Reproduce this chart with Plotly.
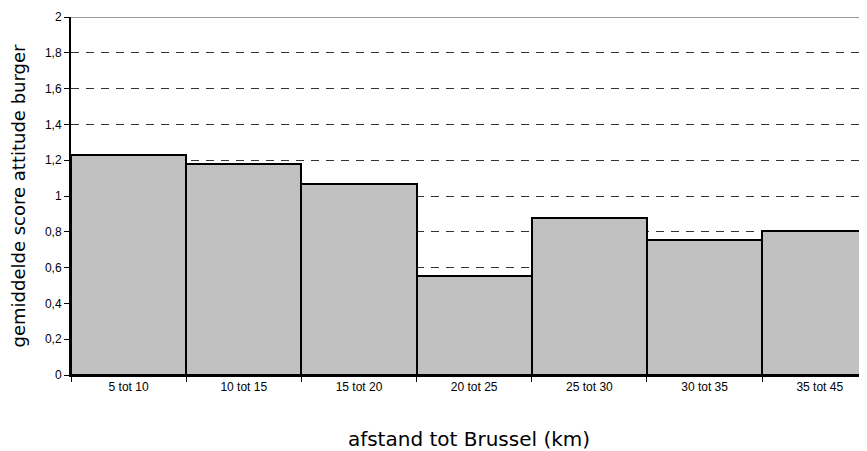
import plotly.graph_objects as go

categories = ["5 tot 10", "10 tot 15", "15 tot 20", "20 tot 25", "25 tot 30", "30 tot 35", "35 tot 45"]
scores = [1.23, 1.18, 1.065, 0.555, 0.875, 0.755, 0.805]
ytick_vals = [0, 0.2, 0.4, 0.6, 0.8, 1, 1.2, 1.4, 1.6, 1.8, 2]
ytick_text = ["0", "0,2", "0,4", "0,6", "0,8", "1", "1,2", "1,4", "1,6", "1,8", "2"]

fig = go.Figure(go.Bar(
    x=categories, y=scores,
    marker=dict(color="#C0C0C0", line=dict(color="black", width=2)),
))

fig.update_layout(
    width=859, height=443,
    margin=dict(l=63, r=0, t=9, b=76),
    paper_bgcolor="white", plot_bgcolor="white",
    bargap=0, showlegend=False,
    font=dict(family="Liberation Sans, Arial, sans-serif", color="black"),
)
fig.update_xaxes(
    range=[-0.5, 6.41],
    showline=True, linecolor="black", linewidth=2,
    ticks="outside", tickson="boundaries", ticklen=5, tickcolor="black",
    tickfont=dict(size=12),
    showgrid=False,
    title=dict(text="afstand tot Brussel (km)",
               font=dict(size=20, family="DejaVu Sans, sans-serif"), standoff=40),
)
fig.update_yaxes(
    range=[0, 2],
    tickvals=ytick_vals, ticktext=ytick_text,
    showline=True, linecolor="black", linewidth=2,
    ticks="outside", ticklen=5, tickcolor="black",
    tickfont=dict(size=12),
    showgrid=True, gridcolor="#333333", gridwidth=1, griddash="8px,7px",
    zeroline=False,
    title=dict(text="gemiddelde score attitude burger",
               font=dict(size=18, family="DejaVu Sans, sans-serif"), standoff=24),
)
fig.add_shape(type="line", xref="paper", yref="y", x0=0, x1=1, y0=2, y1=2,
              line=dict(color="#999999", width=2))

fig.write_html("out.html")
